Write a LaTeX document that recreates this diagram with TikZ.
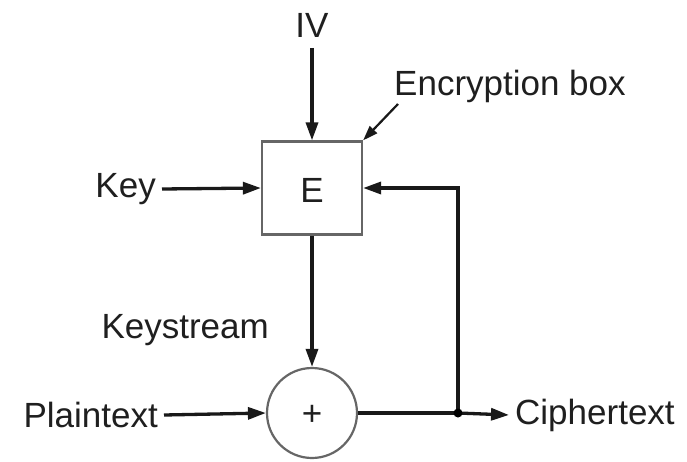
\documentclass[tikz,border=0pt]{standalone}
\usepackage{fontspec}
\setmainfont{Liberation Sans}
\usetikzlibrary{arrows.meta}
\begin{document}
\begin{tikzpicture}[x=1pt,y=-1pt,
  lbl/.style={font=\fontsize{35}{37}\selectfont, text=black!88, inner sep=0pt},
  conn/.style={line width=3.3pt, draw=black!90, -{Triangle[length=18pt,width=12pt]}},
  plain/.style={line width=3.3pt, draw=black!90},
  ebox/.style={draw=black!60, line width=2.2pt, minimum width=100pt, minimum height=93pt, inner sep=0pt},
  xorc/.style={draw=black!60, line width=2.2pt, circle, minimum size=90pt, inner sep=0pt}]
\useasboundingbox (0,0) rectangle (687,462);
\fill[white] (0,0) rectangle (687,462);
\node[ebox] (E) at (312,188) {};
\node[lbl] (Elbl) at (312,190) {E};
\node[xorc] (X) at (312,413) {};
\node[lbl] (plus) at (312,415) {+};
\node[lbl] (IV) at (312,25) {IV};
\node[lbl, anchor=west] (enc) at (394,86) {Encryption box};
\node[lbl, anchor=east] (key) at (156,189) {Key};
\node[lbl, anchor=east] (ks) at (269,330) {Keystream};
\node[lbl, anchor=east] (pt) at (158,415) {Plaintext};
\node[lbl, anchor=west] (ct) at (515,415) {Ciphertext};
\coordinate (ivs) at (312,48);
\coordinate (encs) at (398,104);
\coordinate (dot) at (458,413);
\coordinate (fbtop) at (458,188);
\draw[conn] (ivs) -- (E.north);
\draw[conn, line width=2.2pt, -{Triangle[length=15pt,width=10pt]}] (encs) -- (E.north east);
\draw[conn] (key.east) ++(6pt,0) -- (E.west);
\draw[conn] (E.south) -- (X.north);
\draw[conn] (pt.east) ++(6pt,0) -- (X.west);
\draw[plain] (X.east) -- (dot);
\draw[conn] (dot) -- ([xshift=-6pt]ct.west);
\draw[conn] (dot) -- (fbtop) -- (E.east);
\fill[black] (dot) circle (4.5pt);
\end{tikzpicture}
\end{document}
